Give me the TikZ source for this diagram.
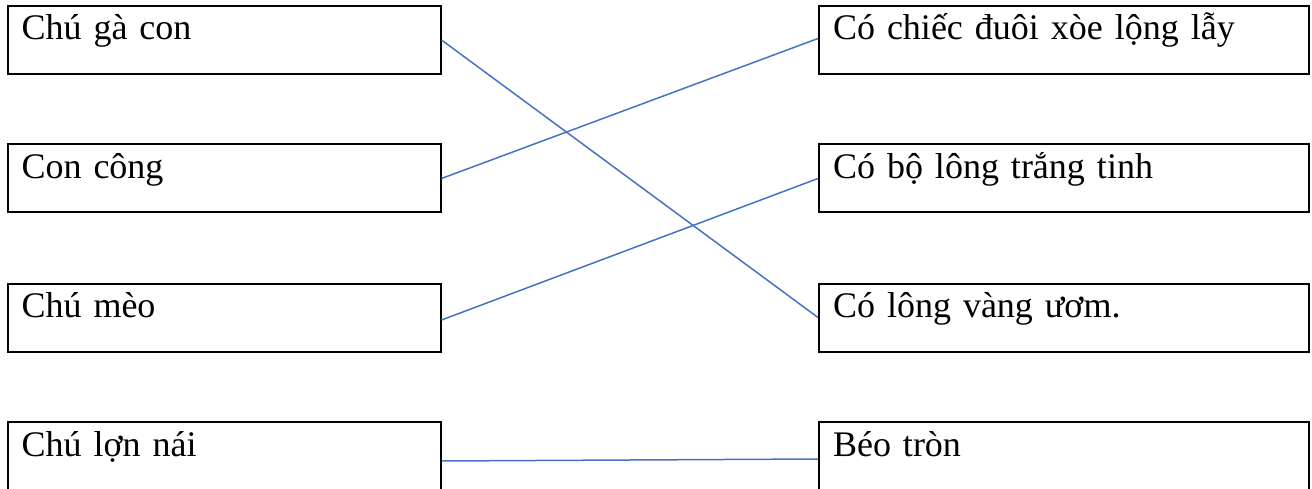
\documentclass[tikz,border=0pt]{standalone}
\usepackage{fontspec}
\setmainfont{Liberation Serif}
\begin{document}
\begin{tikzpicture}[x=1pt,y=-1pt,
  box/.style={draw=black,line width=2pt,rectangle,minimum height=68pt,
    text height=0pt,text depth=0pt,inner xsep=14pt,align=left,
    font=\fontsize{36}{40}\selectfont},
  lbox/.style={box,minimum width=433pt,text width=405pt},
  rbox/.style={box,minimum width=490pt,text width=462pt},
  link/.style={draw={rgb,255:red,68;green,114;blue,196},line width=1.5pt}]
\clip (0,0) rectangle (1312,489);
\node[lbox] (l1) at (224,40) {Chú gà con};
\node[lbox] (l2) at (224,178.5) {Con công};
\node[lbox] (l3) at (224,317.5) {Chú mèo};
\node[lbox] (l4) at (224,456) {Chú lợn nái};
\node[rbox] (r1) at (1064,40) {Có chiếc đuôi xòe lộng lẫy};
\node[rbox] (r2) at (1064,178.5) {Có bộ lông trắng tinh};
\node[rbox] (r3) at (1064,317.5) {Có lông vàng ươm.};
\node[rbox] (r4) at (1064,456) {Béo tròn};
\draw[link] (l1.east) -- (r3.west);
\draw[link] (l2.east) -- ([yshift=1.5pt]r1.west);
\draw[link] ([yshift=-2.5pt]l3.east) -- (r2.west);
\draw[link] ([yshift=-5pt]l4.east) -- ([yshift=-3pt]r4.west);
\end{tikzpicture}
\end{document}
